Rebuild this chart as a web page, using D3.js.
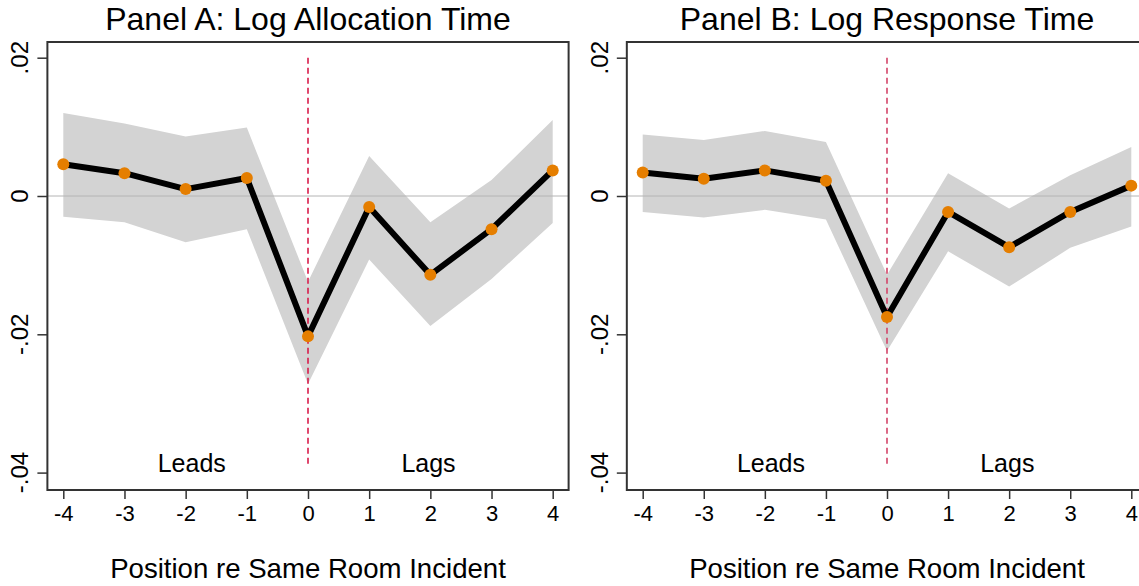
<!DOCTYPE html>
<html><head><meta charset="utf-8">
<script src="https://cdn.jsdelivr.net/npm/d3@7"></script>
<style>
html,body{margin:0;padding:0;background:#fff;}
svg{display:block;font-family:"Liberation Sans",Arial,sans-serif;}
</style></head>
<body>
<svg id="chart" width="1139" height="586"></svg>
<script>
// ---- data ----
const positions = [-4, -3, -2, -1, 0, 1, 2, 3, 4];
const xTickLabels = ["-4", "-3", "-2", "-1", "0", "1", "2", "3", "4"];
const yTicks = [0.02, 0, -0.02, -0.04];
const yTickLabels = [".02", "0", "-.02", "-.04"];
const titles = ["Panel A: Log Allocation Time", "Panel B: Log Response Time"];
const xAxisTitle = "Position re Same Room Incident";
const regionLabels = ["Leads", "Lags"];
const regionLabelPos = [-1.9, 1.97];

const estA  = [0.0046, 0.0033, 0.0010, 0.0026, -0.0203, -0.0016, -0.0114, -0.0048, 0.0037];
const upperA = [0.0120, 0.0105, 0.0086, 0.0099, -0.0124, 0.0058, -0.0038, 0.0023, 0.0110];
const lowerA = [-0.0030, -0.0038, -0.0067, -0.0048, -0.0272, -0.0092, -0.0188, -0.0120, -0.0039];

const estB  = [0.0034, 0.0025, 0.0037, 0.0022, -0.0175, -0.0023, -0.0074, -0.0023, 0.0015];
const upperB = [0.0089, 0.0081, 0.0094, 0.0078, -0.0114, 0.0033, -0.0018, 0.0030, 0.0071];
const lowerB = [-0.0023, -0.0031, -0.0020, -0.0034, -0.0224, -0.0080, -0.0131, -0.0075, -0.0044];

const series = [
  {est: estA, upper: upperA, lower: lowerA, x0: 63.3, x1: 552.7, dash: "#d81b4a"},
  {est: estB, upper: upperB, lower: lowerB, x0: 642.7, x1: 1131.3, dash: "#d34468"}
];

const svg = d3.select("#chart");
const frameTop = 42, frameBottom = 490;
const y = d3.scaleLinear().domain([0, 0.02]).range([196, 57.7]);

series.forEach((s, i) => {
  const x = d3.scaleLinear().domain([-4, 4]).range([s.x0, s.x1]);
  const pad = (s.x1 - s.x0) / 8 * 0.26;
  const fl = s.x0 - pad, fr = s.x1 + pad;
  const g = svg.append("g");
  const data = positions.map((p, k) => ({p, e: s.est[k], u: s.upper[k], l: s.lower[k]}));

  // CI band
  g.append("path").datum(data)
    .attr("d", d3.area().x(d => x(d.p)).y0(d => y(d.l)).y1(d => y(d.u)))
    .attr("fill", "#d3d3d3");

  // zero line
  g.append("line").attr("x1", fl).attr("x2", fr).attr("y1", y(0)).attr("y2", y(0))
    .attr("stroke", "#b4b4b4").attr("stroke-width", 1);

  // dashed vertical at 0
  g.append("line").attr("x1", x(0)).attr("x2", x(0)).attr("y1", y(0.02)).attr("y2", y(-0.0389))
    .attr("stroke", s.dash).attr("stroke-width", 1.6).attr("stroke-dasharray", "6,4");

  // line
  g.append("path").datum(data)
    .attr("d", d3.line().x(d => x(d.p)).y(d => y(d.e)))
    .attr("fill", "none").attr("stroke", "#000").attr("stroke-width", 6)
    .attr("stroke-linejoin", "round");

  // points
  g.selectAll("circle.pt").data(data).enter().append("circle")
    .attr("cx", d => x(d.p)).attr("cy", d => y(d.e)).attr("r", 6)
    .attr("fill", "#e57e00");

  // region labels
  regionLabels.forEach((t, k) => {
    g.append("text").attr("x", x(regionLabelPos[k])).attr("y", 472)
      .attr("text-anchor", "middle").attr("font-size", 25).attr("fill", "#000").text(t);
  });

  // frame
  g.append("rect").attr("x", fl).attr("y", frameTop).attr("width", fr - fl).attr("height", frameBottom - frameTop)
    .attr("fill", "none").attr("stroke", "#333").attr("stroke-width", 2);

  // x axis ticks
  const xa = g.append("g").attr("transform", `translate(0,${frameBottom})`)
    .call(d3.axisBottom(x).tickValues(positions).tickFormat((d, k) => xTickLabels[k])
      .tickSize(9).tickSizeOuter(0).tickPadding(6));
  xa.select(".domain").remove();
  xa.selectAll("line").attr("stroke", "#333").attr("stroke-width", 1.5);
  xa.selectAll("text").attr("font-size", 22).attr("fill", "#000").attr("font-family", "Liberation Sans, Arial, sans-serif");

  // y axis ticks
  const ya = g.append("g").attr("transform", `translate(${fl},0)`)
    .call(d3.axisLeft(y).tickValues(yTicks).tickFormat((d, k) => yTickLabels[k])
      .tickSize(10).tickSizeOuter(0).tickPadding(0));
  ya.select(".domain").remove();
  ya.selectAll("line").attr("stroke", "#333").attr("stroke-width", 1.5);
  ya.selectAll("text").remove();
  yTicks.forEach((v, k) => {
    g.append("text").attr("transform", `translate(${fl - 19},${y(v)}) rotate(-90)`)
      .attr("text-anchor", "middle").attr("font-size", 24).attr("fill", "#000")
      .text(yTickLabels[k]);
  });

  // title
  g.append("text").attr("x", x(0)).attr("y", 30).attr("text-anchor", "middle")
    .attr("font-size", 32).attr("fill", "#000").text(titles[i]);

  // x axis title
  g.append("text").attr("x", x(0)).attr("y", 578).attr("text-anchor", "middle")
    .attr("font-size", 27.6).attr("fill", "#000").text(xAxisTitle);
});
</script>
</body></html>
